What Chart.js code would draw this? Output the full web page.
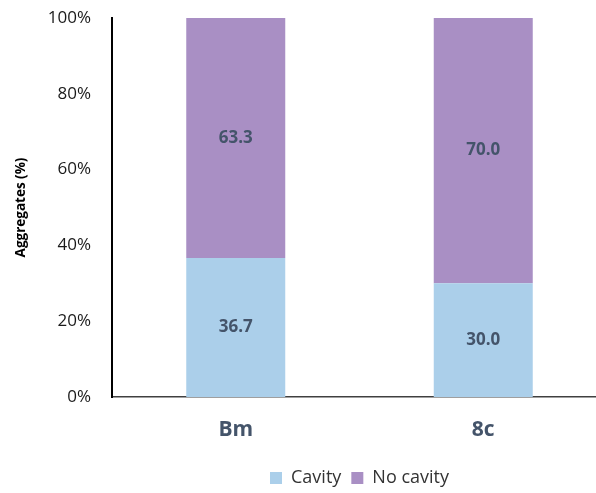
<!DOCTYPE html>
<html>
<head>
<meta charset="utf-8">
<script src="https://cdn.jsdelivr.net/npm/chart.js@4/dist/chart.umd.min.js"></script>
<style>
  html, body { margin: 0; padding: 0; overflow: hidden; background: #fff; }
  #wrap { width: 607px; height: 493px; }
</style>
</head>
<body>
<div id="wrap"><canvas id="aggChart" width="607" height="493"></canvas></div>
<script>
// Chart data
const categories = ["Bm", "8c"];
const cavity = [36.7, 30.0];
const noCavity = [63.3, 70.0];
const seriesNames = ["Cavity", "No cavity"];

const FONT = "'Open Sans', 'Noto Sans', sans-serif";

// Draws the value in the middle of each bar segment
const barValues = {
  id: "barValues",
  afterDatasetsDraw(chart) {
    const ctx = chart.ctx;
    ctx.save();
    ctx.font = "bold 17px " + FONT;
    ctx.fillStyle = "#44546A";
    ctx.textAlign = "center";
    ctx.textBaseline = "middle";
    chart.data.datasets.forEach((ds, i) => {
      const meta = chart.getDatasetMeta(i);
      meta.data.forEach((bar, j) => {
        const y = (bar.y + bar.base) / 2;
        ctx.fillText(ds.data[j].toFixed(1), bar.x, y);
      });
    });
    ctx.restore();
  }
};

const ctx = document.getElementById("aggChart").getContext("2d");
new Chart(ctx, {
  type: "bar",
  data: {
    labels: categories,
    datasets: [
      {
        label: seriesNames[0],
        data: cavity,
        backgroundColor: "#ABCFEA",
        barPercentage: 0.4,
        categoryPercentage: 1.0
      },
      {
        label: seriesNames[1],
        data: noCavity,
        backgroundColor: "#A98FC4",
        barPercentage: 0.4,
        categoryPercentage: 1.0
      }
    ]
  },
  options: {
    responsive: false,
    animation: false,
    layout: { padding: { top: 18, right: 0, bottom: -4, left: 0 } },
    plugins: {
      legend: {
        position: "bottom",
        fullSize: false,
        labels: {
          boxWidth: 12,
          boxHeight: 12,
          padding: 10,
          color: "#333333",
          font: { family: FONT, size: 18 }
        }
      },
      tooltip: { enabled: false }
    },
    scales: {
      x: {
        stacked: true,
        grid: { display: false, drawTicks: false },
        border: { color: "#404040", width: 1.5 },
        ticks: {
          padding: 20,
          color: "#44546A",
          font: { family: FONT, size: 21, weight: "bold" }
        },
        afterFit(scale) { scale.height = 62; }
      },
      y: {
        stacked: true,
        min: 0,
        max: 100,
        grid: { display: false, drawTicks: false },
        border: { color: "#000000", width: 2 },
        ticks: {
          stepSize: 20,
          padding: 21,
          color: "#1a1a1a",
          font: { family: FONT, size: 17 },
          callback: (v) => v + "%"
        },
        title: {
          display: true,
          text: "Aggregates (%)",
          color: "#000000",
          padding: { top: 13, bottom: 0 },
          font: { family: FONT, size: 13.5, weight: "bold" }
        },
        afterFit(scale) {
          scale.width = 112;
          scale.paddingTop = 0;
          scale.paddingBottom = 0;
        }
      }
    }
  },
  plugins: [barValues]
});
</script>
</body>
</html>
